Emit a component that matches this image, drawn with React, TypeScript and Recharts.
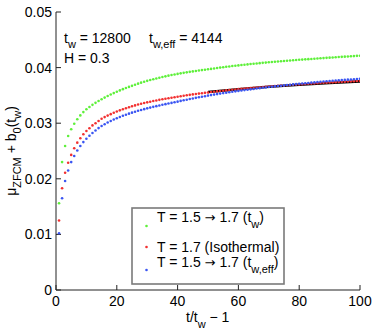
import { ComposedChart, Line, Scatter, XAxis, YAxis } from "recharts";

const tValues = [
  1, 2, 3, 4, 5, 6, 7, 8, 9, 10, 11, 12, 13, 14, 15, 16, 17, 18, 19, 20,
  21, 22, 23, 24, 25, 26, 27, 28, 29, 30, 31, 32, 33, 34, 35, 36, 37, 38, 39, 40,
  41, 42, 43, 44, 45, 46, 47, 48, 49, 50, 51, 52, 53, 54, 55, 56, 57, 58, 59, 60,
  61, 62, 63, 64, 65, 66, 67, 68, 69, 70, 71, 72, 73, 74, 75, 76, 77, 78, 79, 80,
  81, 82, 83, 84, 85, 86, 87, 88, 89, 90, 91, 92, 93, 94, 95, 96, 97, 98, 99, 100,
];

// T = 1.5 -> 1.7 (t_w)
const quenchTw = [
  0.0156, 0.023, 0.0259, 0.0277, 0.0289, 0.0299, 0.0307, 0.0314, 0.032, 0.0325,
  0.03292, 0.0333, 0.03366, 0.034, 0.0343, 0.0346, 0.03488, 0.03515, 0.03541, 0.03566,
  0.0359, 0.03612, 0.03633, 0.03653, 0.03672, 0.03692, 0.03711, 0.03729, 0.03746, 0.03762,
  0.03777, 0.03791, 0.03805, 0.03818, 0.03831, 0.03843, 0.03855, 0.03866, 0.03877, 0.03887,
  0.03897, 0.03906, 0.03915, 0.03924, 0.03932, 0.0394, 0.03948, 0.03955, 0.03962, 0.03969,
  0.03977, 0.03985, 0.03993, 0.04, 0.04007, 0.04014, 0.04021, 0.04028, 0.04034, 0.0404,
  0.04046, 0.04052, 0.04058, 0.04064, 0.04069, 0.04075, 0.0408, 0.04085, 0.0409, 0.04095,
  0.041, 0.04105, 0.0411, 0.04114, 0.04119, 0.04123, 0.04128, 0.04132, 0.04136, 0.0414,
  0.04144, 0.04148, 0.04152, 0.04156, 0.0416, 0.04164, 0.04168, 0.04171, 0.04175, 0.04179,
  0.04183, 0.04186, 0.0419, 0.04193, 0.04197, 0.042, 0.04204, 0.04207, 0.04211, 0.04214,
];

// T = 1.7 (Isothermal)
const isothermal = [
  0.0125, 0.0183, 0.0211, 0.0229, 0.0243, 0.0255, 0.0265, 0.0273, 0.028, 0.0286,
  0.0291, 0.0296, 0.03, 0.0304, 0.0308, 0.0311, 0.03137, 0.03163, 0.03187, 0.0321,
  0.03231, 0.03251, 0.0327, 0.03288, 0.03305, 0.0332, 0.03335, 0.03349, 0.03362, 0.03375,
  0.03387, 0.03398, 0.03409, 0.0342, 0.0343, 0.0344, 0.0345, 0.03459, 0.03468, 0.03477,
  0.03486, 0.03494, 0.03502, 0.0351, 0.03518, 0.03525, 0.03532, 0.03539, 0.03546, 0.03553,
  0.0356, 0.03566, 0.03572, 0.03578, 0.03584, 0.0359, 0.03596, 0.03601, 0.03607, 0.03612,
  0.03617, 0.03622, 0.03627, 0.03632, 0.03637, 0.03641, 0.03646, 0.0365, 0.03655, 0.03659,
  0.03663, 0.03667, 0.03671, 0.03675, 0.03679, 0.03683, 0.03687, 0.03691, 0.03694, 0.03698,
  0.03702, 0.03705, 0.03709, 0.03712, 0.03716, 0.03719, 0.03722, 0.03726, 0.03729, 0.03732,
  0.03735, 0.03738, 0.03741, 0.03744, 0.03747, 0.0375, 0.03753, 0.03756, 0.03759, 0.03762,
];

// T = 1.5 -> 1.7 (t_w,eff)
const quenchTwEff = [
  0.0102, 0.0165, 0.0196, 0.0215, 0.023, 0.0241, 0.0251, 0.0259, 0.0266, 0.0272,
  0.02775, 0.02825, 0.0287, 0.02912, 0.0295, 0.02982, 0.03012, 0.0304, 0.03066, 0.0309,
  0.03112, 0.03133, 0.03153, 0.03172, 0.0319, 0.03207, 0.03223, 0.03238, 0.03253, 0.03267,
  0.03281, 0.03294, 0.03307, 0.03319, 0.03331, 0.03343, 0.03354, 0.03365, 0.03376, 0.03388,
  0.03401, 0.03412, 0.03423, 0.03434, 0.03445, 0.03456, 0.03466, 0.03476, 0.03486, 0.03496,
  0.03505, 0.03514, 0.03523, 0.03532, 0.03541, 0.03549, 0.03557, 0.03565, 0.03573, 0.03581,
  0.03588, 0.03595, 0.03602, 0.03609, 0.03616, 0.03623, 0.0363, 0.03637, 0.03643, 0.0365,
  0.03656, 0.03662, 0.03668, 0.03674, 0.0368, 0.03686, 0.03692, 0.03698, 0.03703, 0.03709,
  0.03714, 0.03719, 0.03724, 0.03729, 0.03734, 0.03739, 0.03744, 0.03749, 0.03754, 0.03759,
  0.03763, 0.03767, 0.03771, 0.03775, 0.03779, 0.03783, 0.03787, 0.03791, 0.03795, 0.03799,
];

const fitT = [50, 60, 70, 80, 90, 100];
const fitValues = [0.03562, 0.03612, 0.03655, 0.03692, 0.03724, 0.03753];

const xTicks = [0, 20, 40, 60, 80, 100];
const yTicks = [0, 0.01, 0.02, 0.03, 0.04, 0.05];

const GREEN = "#5ef03a";
const RED = "#f23030";
const BLUE = "#3a55f2";
const FONT = "'Liberation Sans', Arial, Helvetica, sans-serif";

const toPoints = (ys: number[]) => tValues.map((t, i) => ({ x: t, y: ys[i] }));
const fitData = fitT.map((t, i) => ({ x: t, y: fitValues[i] }));

const dotShape = (color: string) => (props: any) => (
  <circle cx={props.cx} cy={props.cy} r={1.3} fill={color} />
);

const tickStyle = { fill: "#000", fontSize: 14, fontFamily: FONT };
const fmtY = (v: number) => (v === 0 ? "0" : v.toFixed(2));

const Arrow = () => (
  <tspan fontFamily="'DejaVu Sans', sans-serif" fontSize={13}>→</tspan>
);

export default function App() {
  return (
    <div style={{ position: "absolute", left: 0, top: 0, width: 374, height: 332, background: "#fff" }}>
      <ComposedChart width={374} height={332} margin={{ top: 12, right: 14, bottom: 0, left: 0 }}>
        <XAxis
          dataKey="x"
          type="number"
          domain={[0, 100]}
          ticks={xTicks}
          tick={tickStyle}
          tickSize={-5}
          tickMargin={11}
          height={42}
          stroke="#222"
          allowDataOverflow
        />
        <XAxis
          xAxisId="top"
          orientation="top"
          type="number"
          domain={[0, 100]}
          ticks={xTicks}
          tickFormatter={() => ""}
          tickSize={-5}
          height={0}
          stroke="#222"
        />
        <YAxis
          dataKey="y"
          type="number"
          domain={[0, 0.05]}
          ticks={yTicks}
          tickFormatter={fmtY}
          tick={tickStyle}
          tickSize={-5}
          tickMargin={9}
          width={56}
          stroke="#222"
          allowDataOverflow
        />
        <YAxis
          yAxisId="right"
          orientation="right"
          type="number"
          domain={[0, 0.05]}
          ticks={yTicks}
          tickFormatter={() => ""}
          tickSize={-5}
          width={0}
          stroke="#222"
        />
        <Scatter data={toPoints(quenchTw)} dataKey="y" shape={dotShape(GREEN)} isAnimationActive={false} />
        <Scatter data={toPoints(isothermal)} dataKey="y" shape={dotShape(RED)} isAnimationActive={false} />
        <Scatter data={toPoints(quenchTwEff)} dataKey="y" shape={dotShape(BLUE)} isAnimationActive={false} />
        <Line
          data={fitData}
          dataKey="y"
          type="monotone"
          stroke="#000"
          strokeWidth={2.6}
          dot={false}
          isAnimationActive={false}
        />
      </ComposedChart>

      <svg
        width={374}
        height={332}
        style={{ position: "absolute", left: 0, top: 0, pointerEvents: "none" }}
        fontFamily={FONT}
      >
        {/* annotations */}
        <text x={64} y={43} fontSize={14} fill="#000">
          t<tspan dy={5} fontSize={11}>w</tspan>
          <tspan dy={-5}> = 12800</tspan>
        </text>
        <text x={149} y={43} fontSize={14} fill="#000">
          t<tspan dy={5} fontSize={11}>w,eff</tspan>
          <tspan dy={-5}> = 4144</tspan>
        </text>
        <text x={64} y={63} fontSize={14} fill="#000">
          H = 0.3
        </text>

        {/* y label */}
        <text transform="translate(16,151) rotate(-90)" textAnchor="middle" fontSize={14} fill="#000">
          μ<tspan dy={5} fontSize={11}>ZFCM</tspan>
          <tspan dy={-5}> + b</tspan>
          <tspan dy={5} fontSize={11}>0</tspan>
          <tspan dy={-5}>(t</tspan>
          <tspan dy={5} fontSize={11}>w</tspan>
          <tspan dy={-5}>)</tspan>
        </text>

        {/* x label */}
        <text x={186} y={322} fontSize={14} fill="#000">
          t/t<tspan dy={6} fontSize={11}>w</tspan>
          <tspan dy={-6}> − 1</tspan>
        </text>

        {/* legend */}
        <rect x={132} y={208} width={152} height={76} fill="#fff" stroke="#7a7a7a" strokeWidth={1.6} />
        <circle cx={146.5} cy={226} r={1.3} fill={GREEN} />
        <circle cx={146.5} cy={247} r={1.3} fill={RED} />
        <circle cx={146.5} cy={270} r={1.3} fill={BLUE} />
        <text x={157} y={221.5} fontSize={14} fill="#000">
          T = 1.5 <Arrow /> 1.7 (t<tspan dy={6} fontSize={11}>w</tspan>
          <tspan dy={-6}>)</tspan>
        </text>
        <text x={157} y={252} fontSize={14} fill="#000">
          T = 1.7 (Isothermal)
        </text>
        <text x={157} y={266.5} fontSize={14} fill="#000">
          T = 1.5 <Arrow /> 1.7 (t<tspan dy={6} fontSize={11}>w,eff</tspan>
          <tspan dy={-6}>)</tspan>
        </text>
      </svg>
    </div>
  );
}
